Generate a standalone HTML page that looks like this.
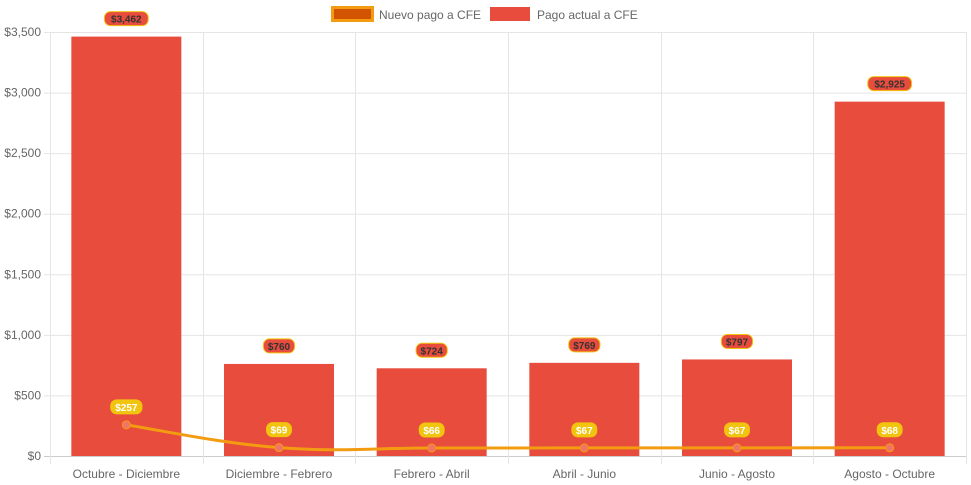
<!DOCTYPE html>
<html><head><meta charset="utf-8"><style>
body{margin:0;background:#fff;}
svg{display:block;font-family:"Liberation Sans",Arial,sans-serif;}
</style></head><body>
<svg id="chart" width="971" height="485">
<g id="grid"></g>
<g id="bars"></g>
<g id="line"></g>
<g id="labels"></g>
<g>
<g>
<rect x="332.5" y="7.5" width="40" height="13" fill="#d35400" stroke="#f39c12" stroke-width="3"/>
<text x="379" y="19" font-size="12" fill="#666">Nuevo pago a CFE</text></g>
<g>
<rect x="490" y="7" width="40" height="14" fill="#e74c3c"/>
<text x="537" y="19" font-size="12" fill="#666">Pago actual a CFE</text></g>
</g>
</svg>
<script>
const categories=["Octubre - Diciembre","Diciembre - Febrero","Febrero - Abril","Abril - Junio","Junio - Agosto","Agosto - Octubre"];
const actual=[3462,760,724,769,797,2925];
const nuevo=[257,69,66,67,67,68];
const yTicks=[0,500,1000,1500,2000,2500,3000,3500];
const NS="http://www.w3.org/2000/svg";
const L=50,R=966,T=32,B=456,YMAX=3500;
const bw=(R-L)/categories.length;
const x=i=>L+bw*(i+0.5);
const y=v=>B-(v/YMAX)*(B-T);
function mk(tag,attrs,parent,txt){const e=document.createElementNS(NS,tag);for(const k in attrs)e.setAttribute(k,attrs[k]);if(txt!==undefined)e.textContent=txt;parent.appendChild(e);return e;}
const fmt=v=>"$"+v.toLocaleString("en-US");
const grid=document.getElementById("grid");
yTicks.forEach(t=>{
  const gl=mk("line",{x1:L-6,x2:R,y1:y(t)+0.5,y2:y(t)+0.5,stroke:t===0?"#ccc":"#e5e5e5"},grid);
  
  
  const tl=mk("text",{x:L-9,y:y(t)+4,"text-anchor":"end","font-size":12,fill:"#666"},grid,fmt(t));
  
  
});
for(let i=0;i<=categories.length;i++){
  const xx=Math.round(L+bw*i)+0.5;
  const vl=mk("line",{x1:xx,x2:xx,y1:T,y2:B+8,stroke:"#e5e5e5"},grid);
  
  
}
categories.forEach((c,i)=>{
  const t=mk("text",{x:x(i),y:478,"text-anchor":"middle","font-size":12,fill:"#666"},grid,c);
  
  
});
const bars=document.getElementById("bars"),labels=document.getElementById("labels");
function label(cx,cy,txt,bg,border,col){
  const w=txt.length*6.3+6;
  const g=mk("g",{},labels);
  
  
  mk("rect",{x:cx-w/2,y:cy-7,width:w,height:14,rx:6,fill:bg,stroke:border,"stroke-width":1},g);
  mk("text",{x:cx,y:cy+4,"text-anchor":"middle","font-size":10,"font-weight":"bold",fill:col},g,txt);
}
const BW=110;
actual.forEach((v,i)=>{
  const r=mk("rect",{x:x(i)-BW/2,y:y(v),width:BW,height:B-y(v),fill:"#e74c3c"},bars);
  
  
  label(x(i),y(v)-18,fmt(v),"#e74c3c","#f1c40f","#333");
});
const lg=document.getElementById("line");
const pts=nuevo.map((v,i)=>[x(i),y(v)]);
let d="M"+pts[0][0]+","+pts[0][1];
for(let i=0;i<pts.length-1;i++){
  const p0=pts[Math.max(0,i-1)],p1=pts[i],p2=pts[i+1],p3=pts[Math.min(pts.length-1,i+2)];
  const t=0.4/2*1;
  const c1=[p1[0]+(p2[0]-p0[0])*t/1,p1[1]+(p2[1]-p0[1])*t/1];
  const c2=[p2[0]-(p3[0]-p1[0])*t/1,p2[1]-(p3[1]-p1[1])*t/1];
  d+=` C${c1[0]},${c1[1]} ${c2[0]},${c2[1]} ${p2[0]},${p2[1]}`;
}
const path=mk("path",{d:d,fill:"none",stroke:"#f39c12","stroke-width":3},lg);


nuevo.forEach((v,i)=>{
  const c=mk("circle",{cx:x(i),cy:y(v),r:4,fill:"#f1736a",stroke:"#f39c12","stroke-width":1},lg);
  
  
  label(x(i),y(v)-18,fmt(v),"#f1c40f","#f1c40f","#fff");
});
</script>
</body></html>
